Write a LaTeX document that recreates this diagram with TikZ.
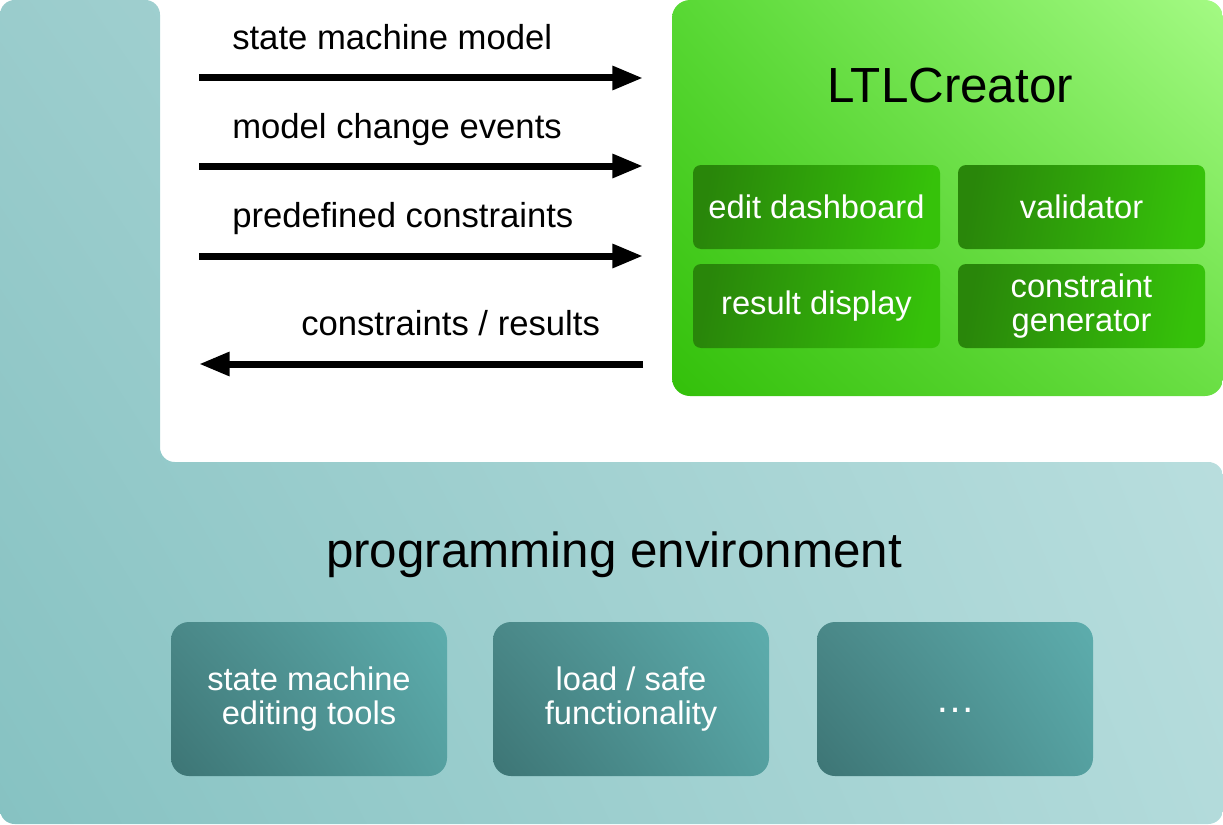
\documentclass[tikz,border=0pt]{standalone}
\usepackage{fontspec}
\setmainfont{Liberation Sans}
\usetikzlibrary{arrows.meta,shadings}
\definecolor{tealUL}{HTML}{9ACCCC}
\definecolor{tealLL}{HTML}{86C2C2}
\definecolor{tealUR}{HTML}{BFE1E1}
\definecolor{tealLR}{HTML}{B3DBDB}
\definecolor{greenUL}{HTML}{58D834}
\definecolor{greenLL}{HTML}{33C00A}
\definecolor{greenUR}{HTML}{A4FA84}
\definecolor{greenLR}{HTML}{6ADF44}
\definecolor{darkgreenL}{HTML}{29860A}
\definecolor{darkgreenR}{HTML}{36C20A}
\definecolor{darktealUL}{HTML}{4A8888}
\definecolor{darktealLL}{HTML}{3D7575}
\definecolor{darktealUR}{HTML}{5DADAD}
\definecolor{darktealLR}{HTML}{55A0A0}
\tikzset{
  flowarrow/.style={line width=5.25pt,-{Triangle[length=23pt,width=17pt]}},
  flowlabel/.style={anchor=base west,inner sep=0pt,font=\fontsize{26}{31}\selectfont},
  partbox/.style={rounded corners=6pt,minimum width=185.25pt,minimum height=63pt,
    inner sep=0pt,text=white,align=center,font=\fontsize{24.5}{25.5}\selectfont,
    left color=darkgreenL,right color=darkgreenR,shading angle=80},
  toolbox/.style={rounded corners=13.5pt,minimum width=207pt,minimum height=115.5pt,
    inner sep=0pt,text=white,align=center,font=\fontsize{24.5}{25.5}\selectfont,
    upper left=darktealUL,lower left=darktealLL,upper right=darktealUR,lower right=darktealLR}
}
\begin{document}
\begin{tikzpicture}[x=0.75pt,y=-0.75pt]
  \useasboundingbox (0,0) rectangle (1223,824);
  % programming environment: L-shaped background
  \shade[rounded corners=11pt,upper left=tealUL,lower left=tealLL,upper right=tealUR,lower right=tealLR]
    (0,0) -- (160,0) -- (160,462) -- (1223,462) -- (1223,824) -- (0,824) -- cycle;
  \node[font=\fontsize{37}{44}\selectfont,anchor=base,inner sep=0pt] (envtitle) at (614,567) {programming environment};
  \node[toolbox] (edittools) at (309,699) {state machine\\editing tools};
  \node[toolbox] (loadsafe) at (631,699) {load / safe\\functionality};
  \node[toolbox,text height=19.5pt,text depth=0pt,font=\fontsize{30}{31}\selectfont] (more) at (955,699) {\dots};
  % LTLCreator box with its parts
  \node[rounded corners=13.5pt,minimum width=413.25pt,minimum height=297pt,inner sep=0pt,
    upper left=greenUL,lower left=greenLL,upper right=greenUR,lower right=greenLR] (ltl) at (947.5,198) {};
  \node[font=\fontsize{37}{44}\selectfont,anchor=base,inner sep=0pt] (ltltitle) at (950,103) {LTLCreator};
  \node[partbox] (dashboard) at (816.5,207) {edit dashboard};
  \node[partbox] (validator) at (1081.5,207) {validator};
  \node[partbox] (display) at (816.5,306) {result display};
  \node[partbox] (generator) at (1081.5,306) {constraint\\generator};
  % arrows between environment and LTLCreator
  \coordinate (envA) at (199,78);   \coordinate (ltlA) at (643,78);
  \coordinate (envB) at (199,166);  \coordinate (ltlB) at (643,166);
  \coordinate (envC) at (199,256);  \coordinate (ltlC) at (643,256);
  \coordinate (envD) at (199,364);  \coordinate (ltlD) at (643,364);
  \draw[flowarrow] (envA) -- (ltlA);
  \draw[flowarrow] (envB) -- (ltlB);
  \draw[flowarrow] (envC) -- (ltlC);
  \draw[flowarrow] (ltlD) -- (envD);
  \node[flowlabel] (modellbl) at (232,50) {state machine model};
  \node[flowlabel] (eventlbl) at (232,138) {model change events};
  \node[flowlabel] (predeflbl) at (232,227) {predefined constraints};
  \node[flowlabel] (resultlbl) at (301,335) {constraints / results};
\end{tikzpicture}
\end{document}
